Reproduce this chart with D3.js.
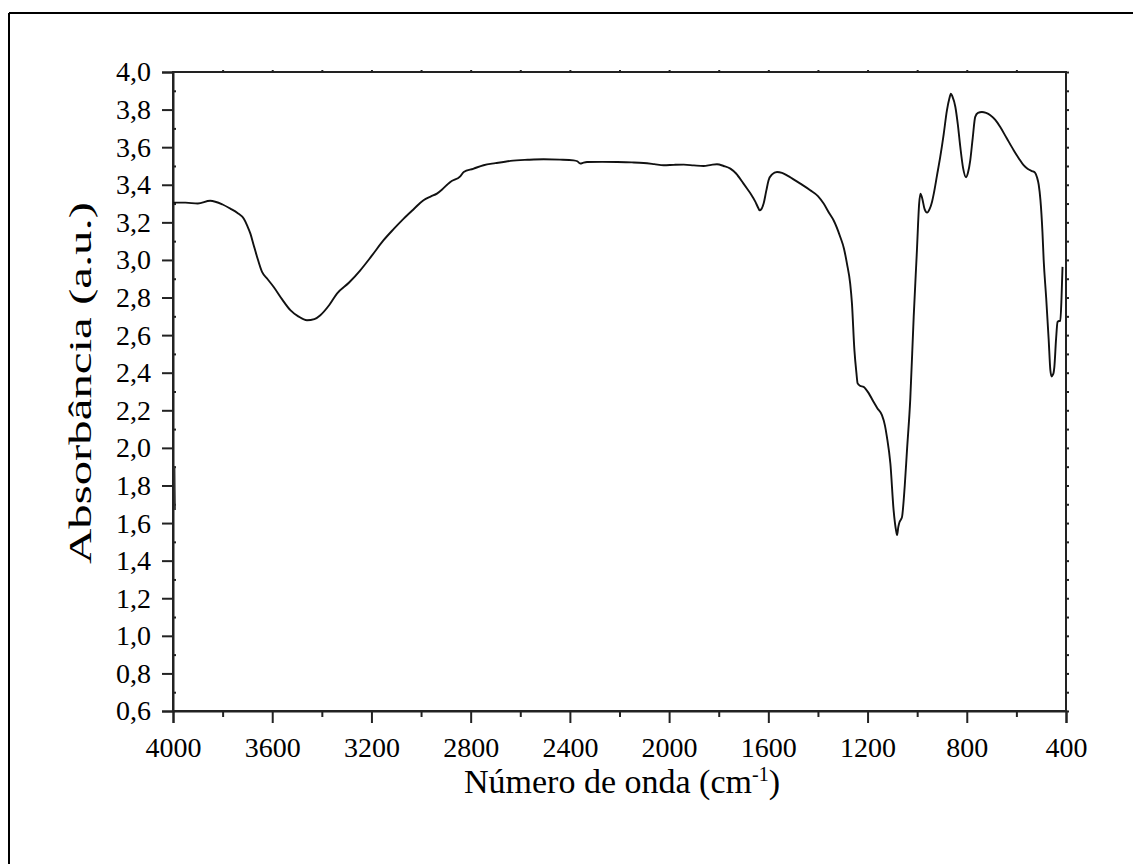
<!DOCTYPE html>
<html>
<head>
<meta charset="utf-8">
<script src="https://cdn.jsdelivr.net/npm/d3@7"></script>
<style>
  html, body { margin: 0; padding: 0; background: #fff; }
  svg { display: block; }
  text { font-family: "Liberation Serif", "Times New Roman", serif; fill: #000; }
</style>
</head>
<body>
<svg id="chart" width="1133" height="864"></svg>
<script>
// ---- data ----
const wavenumber = [4000,3950,3900,3850,3800,3769,3740,3715,3700,3688,3675,3661,3641,3620,3594,3560,3527,3495,3460,3430,3406,3370,3339,3290,3245,3200,3151,3110,3070,3030,2990,2960,2936,2915,2895,2882,2842,2828,2790,2748,2700,2640,2570,2506,2440,2385,2370,2358,2345,2331,2270,2210,2150,2103,2060,2022,1980,1941,1900,1861,1830,1807,1780,1753,1730,1700,1686,1670,1652,1640,1635,1628,1619,1608,1599,1585,1565,1545,1525,1500,1471,1431,1400,1377,1355,1337,1310,1295,1283,1270,1263,1253,1245,1240,1230,1216,1195,1176,1160,1142,1130,1122,1108,1095,1085,1081,1076,1071,1065,1061,1050,1041,1028,1014,1001,992,987,980,970,960,950,940,933,920,907,893,880,870,864,858,846,836,826,815,803,795,786,776,766,755,739,722,705,685,665,640,611,590,571,555,537,525,517,510,503,495,490,480,470,463,458,454,450,447,440,434,428,423,418,414];
const absorbance = [3.305,3.305,3.300,3.315,3.295,3.273,3.250,3.220,3.180,3.140,3.080,3.016,2.936,2.900,2.856,2.790,2.733,2.700,2.679,2.685,2.706,2.760,2.821,2.880,2.945,3.020,3.105,3.165,3.220,3.270,3.318,3.338,3.353,3.375,3.400,3.415,3.445,3.468,3.485,3.504,3.515,3.527,3.533,3.536,3.534,3.530,3.525,3.513,3.518,3.521,3.522,3.521,3.519,3.516,3.510,3.504,3.506,3.507,3.503,3.500,3.506,3.509,3.500,3.486,3.460,3.406,3.380,3.350,3.309,3.275,3.264,3.270,3.300,3.370,3.424,3.455,3.468,3.463,3.450,3.430,3.406,3.371,3.340,3.300,3.250,3.211,3.122,3.060,2.980,2.874,2.770,2.520,2.400,2.343,2.330,2.325,2.290,2.245,2.210,2.174,2.120,2.059,1.917,1.669,1.560,1.536,1.580,1.606,1.620,1.633,1.800,1.988,2.254,2.697,3.050,3.300,3.353,3.330,3.270,3.252,3.270,3.310,3.353,3.450,3.548,3.670,3.796,3.860,3.885,3.870,3.814,3.720,3.600,3.490,3.440,3.465,3.530,3.650,3.761,3.782,3.787,3.782,3.770,3.745,3.707,3.650,3.584,3.540,3.504,3.485,3.473,3.465,3.440,3.400,3.318,3.150,3.000,2.800,2.580,2.413,2.380,2.387,2.400,2.430,2.580,2.670,2.675,2.676,2.800,2.963];
// short artefact segment at the left edge
const edgeWavenumber = [3994, 3993, 3992];
const edgeAbsorbance = [1.90, 1.78, 1.67];

const xTicks = [4000,3600,3200,2800,2400,2000,1600,1200,800,400];
const yTicks = [4.0,3.8,3.6,3.4,3.2,3.0,2.8,2.6,2.4,2.2,2.0,1.8,1.6,1.4,1.2,1.0,0.8,0.6];
const xLabel = "Número de onda (cm";
const yLabel = "Absorbância (a.u.)";

// ---- layout ----
const svg = d3.select("#chart");
const L = 173, R = 1066, T = 72, B = 711;
const x = d3.scaleLinear().domain([4000, 400]).range([L, R]);
const y = d3.scaleLinear().domain([0.6, 4.0]).range([B, T]);
const fmt = d => d.toFixed(1).replace(".", ",");

// outer page frame (top & left visible)
svg.append("line").attr("x1", 9).attr("x2", 1140).attr("y1", 13).attr("y2", 13)
  .attr("stroke", "#000").attr("stroke-width", 2);
svg.append("line").attr("x1", 9).attr("x2", 9).attr("y1", 13).attr("y2", 870)
  .attr("stroke", "#000").attr("stroke-width", 2);

const axW = 2, axC = "#222";

// left axis: major outward, minor inward
const gL = svg.append("g").attr("transform", `translate(${L},0)`);
gL.call(d3.axisLeft(y).tickValues(yTicks).tickFormat(fmt).tickSize(11).tickPadding(11));
const gLm = svg.append("g").attr("transform", `translate(${L},0)`);
gLm.call(d3.axisRight(y).tickValues(d3.range(0.7, 4.0, 0.2)).tickFormat("").tickSize(3));
// right axis: small ticks outward
const gR = svg.append("g").attr("transform", `translate(${R},0)`);
gR.call(d3.axisRight(y).tickValues(d3.range(0.6, 4.01, 0.1)).tickFormat("").tickSize(3));
// bottom axis: major & minor outward
const gB = svg.append("g").attr("transform", `translate(0,${B})`);
gB.call(d3.axisBottom(x).tickValues(xTicks).tickFormat(d3.format("d")).tickSize(12).tickPadding(14));
const gBm = svg.append("g").attr("transform", `translate(0,${B})`);
gBm.call(d3.axisBottom(x).tickValues(d3.range(3800, 400, -400)).tickFormat("").tickSize(6));
// top axis: small ticks outward
const gT = svg.append("g").attr("transform", `translate(0,${T})`);
gT.call(d3.axisTop(x).tickValues(d3.range(3800, 400, -200)).tickFormat("").tickSize(2));

[gL, gLm, gR, gB, gBm, gT].forEach(g => {
  g.select(".domain").attr("stroke", axC).attr("stroke-width", axW);
  g.selectAll(".tick line").attr("stroke", axC).attr("stroke-width", 2);
});
[gLm, gBm, gT, gR].forEach(g => g.select(".domain").remove());
svg.append("rect").attr("x", L).attr("y", T).attr("width", R - L).attr("height", B - T)
  .attr("fill", "none").attr("stroke", axC).attr("stroke-width", axW);

gL.selectAll(".tick text").attr("font-size", 28).attr("font-family", "Liberation Serif");
gB.selectAll(".tick text").attr("font-size", 28).attr("font-family", "Liberation Serif");

// spectrum
const pts = wavenumber.map((w, i) => [w, absorbance[i]]);
const line = d3.line().x(d => x(d[0])).y(d => y(d[1])).curve(d3.curveMonotoneX);
svg.append("path").datum(pts).attr("d", line)
  .attr("fill", "none").attr("stroke", "#111").attr("stroke-width", 1.9).attr("stroke-linejoin", "round");
const edgePts = edgeWavenumber.map((w, i) => [w, edgeAbsorbance[i]]);
svg.append("path").datum(edgePts).attr("d", d3.line().x(d => x(d[0])).y(d => y(d[1])))
  .attr("fill", "none").attr("stroke", "#333").attr("stroke-width", 1.8);

// axis titles
const xt = svg.append("text").attr("x", 622).attr("y", 793)
  .attr("text-anchor", "middle").attr("font-size", 34);
xt.append("tspan").text(xLabel);
xt.append("tspan").attr("font-size", 20).attr("dy", -12).text("-1");
xt.append("tspan").attr("dy", 12).text(")");

svg.append("text").attr("transform", `translate(91,383) rotate(-90)`)
  .attr("text-anchor", "middle").attr("font-size", 32)
  .attr("textLength", 362).attr("lengthAdjust", "spacingAndGlyphs").text(yLabel);
</script>
</body>
</html>
